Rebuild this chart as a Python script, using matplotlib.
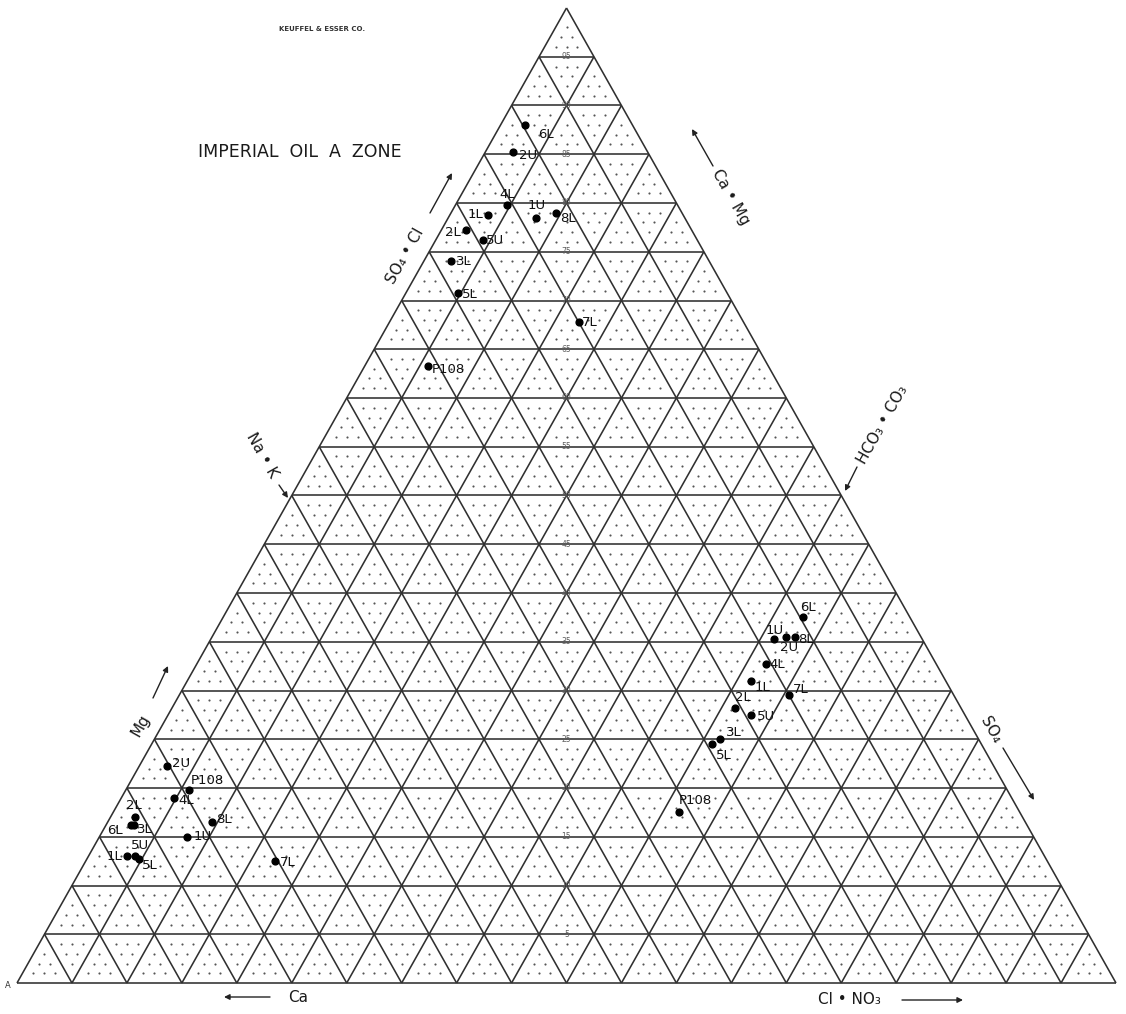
import numpy as np
import matplotlib
matplotlib.use("Agg")
import matplotlib.pyplot as plt
from matplotlib.collections import LineCollection

# ---- sample analyses (percent of total meq) ----
samples = ["1U", "1L", "2U", "2L", "3L", "4L", "5U", "5L", "6L", "7L", "8L", "P108"]
ca = [54.0, 67.0, 50.5, 61.5, 62.5, 52.5, 65.5, 65.0, 63.0, 40.5, 48.0, 49.0]
mg = [30.0, 26.0, 44.5, 34.0, 32.5, 38.0, 26.0, 25.5, 32.5, 25.0, 33.0, 39.5]
cl = [2.5, 2.5, 4.5, 2.5, 3.0, 3.5, 6.0, 2.0, 5.5, 11.0, 6.0, 3.0]
so4 = [70.5, 62.0, 71.0, 56.5, 50.0, 65.5, 55.0, 49.0, 75.0, 59.0, 71.0, 35.0]

title = "IMPERIAL  OIL  A  ZONE"
maker = "KEUFFEL & ESSER CO."

# label placement (pixel offsets right/down, alignment) for each field
top_lab = {"6L": (13, 10, "left"), "2U": (6, 4, "left"), "4L": (0, -11, "center"),
           "1L": (-5, -1, "right"), "1U": (0, -12, "center"), "8L": (5, 6, "left"),
           "2L": (-5, 3, "right"), "5U": (3, 1, "left"), "3L": (5, 0, "left"),
           "5L": (4, 1, "left"), "7L": (3, 0, "left"), "P108": (4, 3, "left")}
cat_lab = {"2U": (5, -3, "left"), "P108": (2, -10, "left"), "4L": (5, 3, "left"),
           "2L": (-1, -12, "center"), "6L": (-8, 6, "right"), "3L": (3, 5, "left"),
           "8L": (4, -3, "left"), "1U": (6, 0, "left"), "5U": (5, -11, "center"),
           "1L": (-5, 0, "right"), "5L": (3, 7, "left"), "7L": (5, 1, "left")}
an_lab = {"6L": (-3, -10, "left"), "1U": (1, -9, "center"), "2U": (3, 11, "center"),
          "8L": (4, 3, "left"), "4L": (4, 1, "left"), "1L": (4, 7, "left"),
          "7L": (4, -6, "left"), "2L": (0, -10, "left"), "5U": (6, 2, "left"),
          "3L": (6, -7, "left"), "5L": (4, 11, "left"), "P108": (0, -12, "left")}

ca_a, mg_a = np.array(ca) / 100, np.array(mg) / 100
cl_a, so4_a = np.array(cl) / 100, np.array(so4) / 100
nak_a = 1 - ca_a - mg_a
hco3_a = 1 - cl_a - so4_a

# big triangle: bottom-left (0,0), bottom-right (1,0), apex (0.5,1)
# cation field: Ca at (0,0), Na+K at (0.5,0), Mg at (0.25,0.5)
cx = 0.5 * nak_a + 0.25 * mg_a
cy = 0.5 * mg_a
# anion field: HCO3+CO3 at (0.5,0), Cl+NO3 at (1,0), SO4 at (0.75,0.5)
ax_ = 0.5 * hco3_a + cl_a + 0.75 * so4_a
ay_ = 0.5 * so4_a
# upper field from (SO4+Cl) and (Ca+Mg)
s = so4_a + cl_a
c = ca_a + mg_a
wl, wr, wt = 1 - s, 1 - c, s + c - 1
tx = 0.25 * wl + 0.75 * wr + 0.5 * wt
ty = 0.5 * (wl + wr) + wt

W, H = 1126, 1014
fig = plt.figure(figsize=(W / 100, H / 100), dpi=100)
fig.patch.set_facecolor("white")
x0, x1, ybot, ytop = 17, 1116, 983, 8
ax = fig.add_axes([x0 / W, (H - ybot) / H, (x1 - x0) / W, (ybot - ytop) / H])
ax.set_xlim(0, 1)
ax.set_ylim(0, 1)
ax.axis("off")

gc = "#303030"
segs = [[(0, 0), (1, 0)], [(1, 0), (0.5, 1)], [(0.5, 1), (0, 0)]]
n = 20
for k in range(1, n):
    f = k / n
    segs.append([(f / 2, f), (1 - f / 2, f)])
    segs.append([(f, 0), (f + (1 - f) / 2, 1 - f)])
    segs.append([(f, 0), (f / 2, f)])
ax.add_collection(LineCollection(segs, colors=gc, linewidths=1.15, zorder=2,
                                 clip_on=False))

# stipple of the printed paper: 1 % lattice points off the 5 % lines
pu, pv = [], []
for a in range(101):
    for b in range(101 - a):
        r = 100 - a - b
        if a % 5 == 0 or b % 5 == 0 or r % 5 == 0:
            continue
        pv.append(a / 100)
        pu.append(b / 100 + a / 200)
ax.scatter(pu, pv, s=2.4, c="#555555", linewidths=0, zorder=1)

# printed scale numbers along the centre line
for k in range(1, n):
    ax.text(0.5, k / n, str(5 * k), fontsize=5.5, color="#606060",
            ha="center", va="center", zorder=3)


def plot_field(xs, ys, offs):
    ax.scatter(xs, ys, s=24, c="black", zorder=5, clip_on=False)
    for name, xv, yv in zip(samples, xs, ys):
        dx, dy, ha = offs[name]
        ax.annotate(name, (xv, yv), xytext=(dx * 0.72, -dy * 0.72),
                    textcoords="offset points", ha=ha, va="center",
                    fontsize=9.5, color="#111111", zorder=6)


plot_field(cx, cy, cat_lab)
plot_field(ax_, ay_, an_lab)
plot_field(tx, ty, top_lab)


def pix(px, py):
    return ((px - x0) / (x1 - x0), (ybot - py) / (ybot - ytop))


def arrow(p0, p1):
    ax.annotate("", xy=pix(*p1), xytext=pix(*p0),
                arrowprops=dict(arrowstyle="-|>", color="#222222", lw=1.0,
                                mutation_scale=8, shrinkA=0, shrinkB=0),
                annotation_clip=False)


ang = 60.6
lab_kw = dict(fontsize=11, color="#1a1a1a", ha="center", va="center",
              clip_on=False)
ax.text(*pix(300, 152), title, fontsize=12.5, color="#1a1a1a",
        ha="center", va="center")
ax.text(*pix(322, 29), maker, fontsize=5, fontweight="bold", color="#333333",
        ha="center", va="center")

ax.text(*pix(405, 256), "SO₄ • Cl", rotation=ang, **lab_kw)
arrow((430, 213), (452, 173))
ax.text(*pix(731, 197), "Ca • Mg", rotation=-ang, **lab_kw)
arrow((713, 166), (692, 129))
ax.text(*pix(262, 455), "Na • K", rotation=-ang, **lab_kw)
arrow((279, 485), (288, 498))
ax.text(*pix(883, 425), "HCO₃ • CO₃", rotation=ang, **lab_kw)
arrow((857, 467), (845, 491))
ax.text(*pix(141, 725), "Mg", rotation=ang, **lab_kw)
arrow((153, 698), (168, 666))
ax.text(*pix(298, 998), "Ca", **lab_kw)
arrow((270, 997), (224, 997))
ax.text(*pix(849, 1000), "Cl • NO₃", **lab_kw)
arrow((902, 1000), (963, 1000))
ax.text(*pix(991, 730), "SO₄", rotation=-ang, **lab_kw)
arrow((1003, 748), (1034, 800))
ax.text(*pix(8, 985), "A", fontsize=6, color="#333333", ha="center",
        va="center", clip_on=False)

fig.savefig("out.png", dpi=100, facecolor="white")
